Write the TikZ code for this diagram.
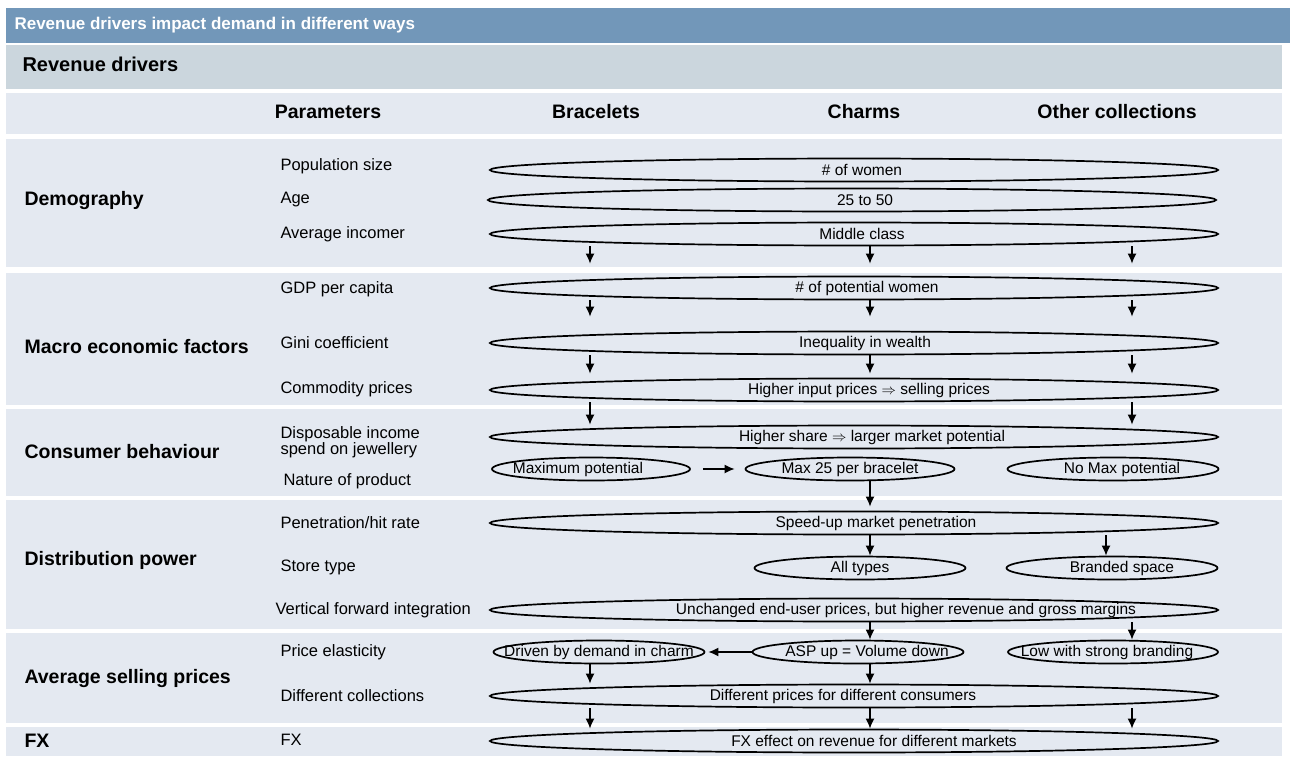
\documentclass[tikz,border=0pt]{standalone}
\usepackage{fontspec}
\setmainfont{Liberation Sans}
\usetikzlibrary{shapes, arrows, arrows.meta, positioning}

\definecolor{titleblue}{HTML}{7297B9}
\definecolor{headgray}{HTML}{CBD6DD}
\definecolor{rowgray}{HTML}{E4E9F1}

\tikzset{
	band/.style={fill=rowgray, draw=none},
	oval/.style={draw, line width=1.7pt, ellipse, inner xsep=-25pt, inner ysep=0pt, minimum height=23pt, font=\fontsize{15.5}{18}\selectfont},
	wide/.style={oval, minimum width=728pt},
	small/.style={oval, minimum width=211pt},
	% moves the text of an oval sideways, the oval stays put
	nudge/.style={execute at begin node={\hspace*{#1}}, execute at end node={\hspace*{-#1}}},
	param/.style={anchor=west, align=left, font=\fontsize{16.5}{16.5}\selectfont},
	driver/.style={anchor=west, font=\bfseries\fontsize{19.5}{22}\selectfont},
	colhead/.style={font=\bfseries\fontsize{19.5}{22}\selectfont},
	arr/.style={draw, -{Latex[length=10pt, width=9pt]}, line width=1.5pt}
}

\begin{document}
\begin{tikzpicture}[x=1pt, y=-1pt]
		\useasboundingbox (0,0) rectangle (1290,756);
		% bands
		\fill[titleblue] (6,8) rectangle (1290,43);
		\fill[headgray] (6,45) rectangle (1282,89);
		\path[band] (6,93) rectangle (1282,134);
		\path[band] (6,139) rectangle (1282,267);
		\path[band] (6,273) rectangle (1282,405);
		\path[band] (6,409) rectangle (1282,496);
		\path[band] (6,500) rectangle (1282,629);
		\path[band] (6,633) rectangle (1282,723);
		\path[band] (6,727) rectangle (1282,756);

		\node[anchor=west, text=white, font=\bfseries\fontsize{17}{20}\selectfont] (title) at (11,25) {Revenue drivers impact demand in different ways};
		\node[anchor=west, font=\bfseries\fontsize{20}{24}\selectfont] (drivers) at (19,64) {Revenue drivers};

		% column heads
		\node[colhead] (hpar) at (328,112) {Parameters};
		\node[colhead] (hbra) at (596,112) {Bracelets};
		\node[colhead] (hcha) at (864,112) {Charms};
		\node[colhead] (hoth) at (1117,112) {Other collections};
		\coordinate (bra) at (590,0);
		\coordinate (cha) at (870,0);
		\coordinate (oth) at (1132,0);
		\coordinate (shop) at (1106,0);

		% drivers
		\node[driver] (demo) at (21,200) {Demography};
		\node[driver] (macro) at (21,347) {Macro economic factors};
		\node[driver] (cons) at (21,452) {Consumer behaviour};
		\node[driver] (dist) at (21,560) {Distribution power};
		\node[driver] (asps) at (21,678) {Average selling prices};
		\node[driver] (fxd) at (21,741) {FX};

		% parameters
		\node[param] (p1) at (277,166) {Population size};
		\node[param] (p2) at (277,200) {Age};
		\node[param] (p3) at (277,234) {Average incomer};
		\node[param] (p4) at (277,289) {GDP per capita};
		\node[param] (p5) at (277,343) {Gini coefficient};
		\node[param] (p6) at (277,389) {Commodity prices};
		\node[param] (p7) at (277,442) {Disposable income\\spend on jewellery};
		\node[param] (p8) at (280,481) {Nature of product};
		\node[param] (p9) at (277,523) {Penetration/hit rate};
		\node[param] (p10) at (277,567) {Store type};
		\node[param] (p11) at (272,610) {Vertical forward integration};
		\node[param] (p12) at (277,652) {Price elasticity};
		\node[param] (p13) at (277,696) {Different collections};
		\node[param] (p14) at (277,740) {FX};

		% effects
		\node[wide, nudge=8pt] (women) at (854,170) {\# of women};
		\node[wide, nudge=13pt] (age) at (852,200) {25 to 50};
		\node[wide, nudge=8pt] (mid) at (854,234) {Middle class};
		\node[wide, nudge=13pt] (pot) at (854,288) {\# of potential women};
		\node[wide, nudge=11pt] (ineq) at (854,343) {Inequality in wealth};
		\node[wide, nudge=15pt] (input) at (854,390) {Higher input prices $\Rightarrow$ selling prices};
		\node[wide, nudge=18pt] (share) at (854,437) {Higher share $\Rightarrow$ larger market potential};
		\node[small, minimum width=198pt, nudge=-13pt] (maxpot) at (591,469) {Maximum potential};
		\node[small, minimum width=209pt] (max25) at (850,469) {Max 25 per bracelet};
		\node[small, nudge=9pt] (nomax) at (1113,469) {No Max potential};
		\node[wide, nudge=22pt] (speed) at (854,523) {Speed-up market penetration};
		\node[small] (alltypes) at (860,568) {All types};
		\node[small, nudge=10pt] (branded) at (1112,568) {Branded space};
		\node[wide, nudge=52pt] (unch) at (854,610) {Unchanged end-user prices, but higher revenue and gross margins};
		\node[small] (driven) at (599,652) {Driven by demand in charm};
		\node[small, nudge=9pt] (asp) at (858,652) {ASP up = Volume down};
		\node[small, minimum width=210pt, nudge=-6pt] (low) at (1113,652) {Low with strong branding};
		\node[wide, nudge=-11pt] (diff) at (854,696) {Different prices for different consumers};
		\node[wide, nudge=20pt] (fx) at (854,741) {FX effect on revenue for different markets};

		% links
		\foreach \c in {bra,cha,oth} {
			\path[arr, shorten >=12pt] (mid.south -| \c) -- (pot.north -| \c);
			\path[arr, shorten >=14pt] (pot.south -| \c) -- (ineq.north -| \c);
			\path[arr, shorten >=4pt] (ineq.south -| \c) -- (input.north -| \c);
			\path[arr] (diff.south -| \c) -- (fx.north -| \c);
		}
		\foreach \c in {bra,oth}
			\path[arr] (input.south -| \c) -- (share.north -| \c);
		\path[arr, shorten <=12pt, shorten >=10pt] (maxpot) -- (max25);
		\path[arr, shorten >=4pt] (max25.south -| cha) -- (speed.north -| cha);
		\path[arr] (speed.south -| cha) -- (alltypes.north -| cha);
		\path[arr] (speed.south -| shop) -- (branded.north -| shop);
		\path[arr] (unch.south -| cha) -- (asp.north -| cha);
		\path[arr] (unch.south -| oth) -- (low.north -| oth);
		\path[arr, shorten >=3pt] (asp) -- (driven);
		\path[arr] (driven.south -| bra) -- (diff.north -| bra);
		\path[arr] (asp.south -| cha) -- (diff.north -| cha);
	\end{tikzpicture}
\end{document}
